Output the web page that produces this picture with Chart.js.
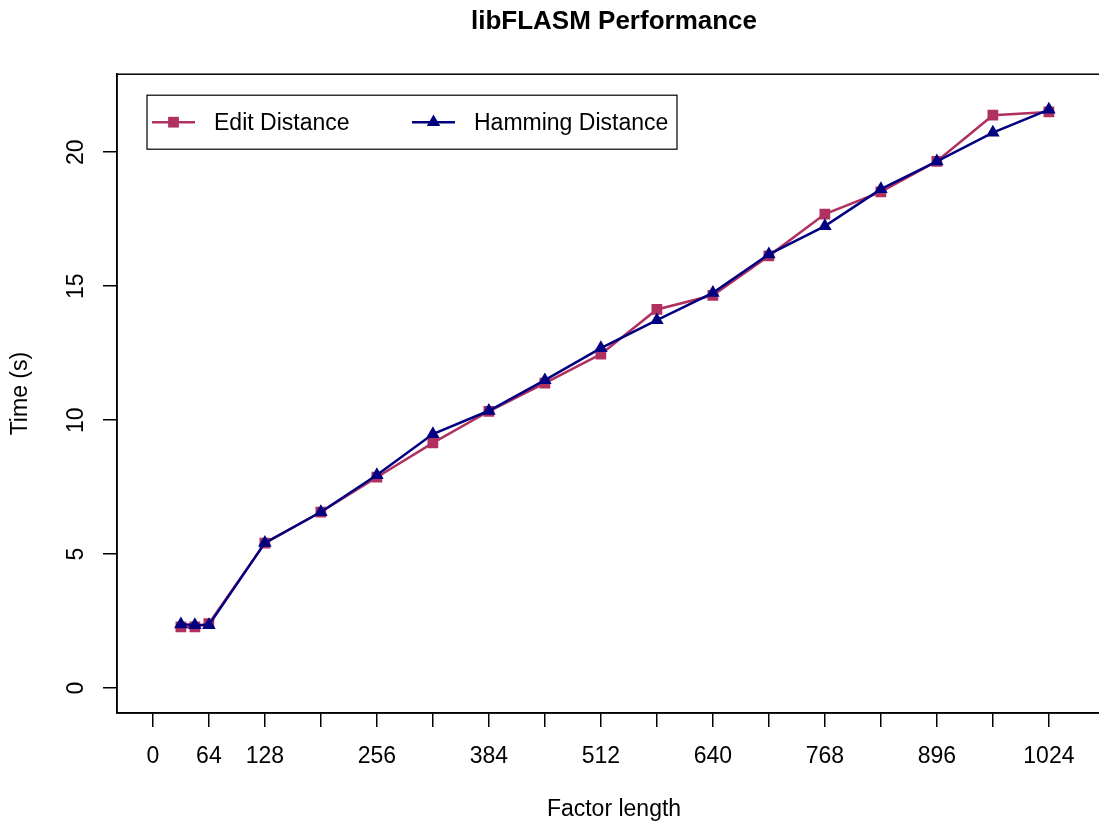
<!DOCTYPE html>
<html>
<head>
<meta charset="utf-8">
<script src="https://cdn.jsdelivr.net/npm/chart.js@4/dist/chart.umd.min.js"></script>
<style>
html,body{margin:0;padding:0;background:#fff;overflow:hidden;width:1099px;height:823px;}
#wrap{width:1099px;height:823px;overflow:hidden;position:relative;}
canvas{display:block;}
</style>
</head>
<body>
<div id="wrap"><canvas id="c" width="1130" height="823"></canvas></div>
<script>
const factorLength = [32, 48, 64, 128, 192, 256, 320, 384, 448, 512, 576, 640, 704, 768, 832, 896, 960, 1024];
const editDistance = [2.28, 2.28, 2.41, 5.41, 6.57, 7.87, 9.15, 10.33, 11.38, 12.46, 14.13, 14.66, 16.13, 17.69, 18.52, 19.66, 21.38, 21.50];
const hammingDistance = [2.38, 2.35, 2.35, 5.42, 6.57, 7.95, 9.48, 10.35, 11.49, 12.69, 13.73, 14.75, 16.19, 17.24, 18.62, 19.66, 20.73, 21.59];
const xTickValues = [0, 64, 128, 192, 256, 320, 384, 448, 512, 576, 640, 704, 768, 832, 896, 960, 1024];
const xTickLabels = ['0', '64', '128', '', '256', '', '384', '', '512', '', '640', '', '768', '', '896', '', '1024'];
const yTickValues = [0, 5, 10, 15, 20];
const yTickLabels = ['0', '5', '10', '15', '20'];
const seriesNames = ['Edit Distance', 'Hamming Distance'];
const titleText = 'libFLASM Performance';
const xTitle = 'Factor length';
const yTitle = 'Time (s)';

const FONT = "'Liberation Sans', Arial, Helvetica, sans-serif";
const MAROON = '#B03060';
const NAVY = '#000080';

const bgPlugin = {
  id: 'bg',
  beforeDraw(chart) {
    const ctx = chart.ctx;
    ctx.save();
    ctx.fillStyle = '#fff';
    ctx.fillRect(0, 0, chart.width, chart.height);
    ctx.restore();
  }
};

const boxPlugin = {
  id: 'rbox',
  afterDraw(chart) {
    const ctx = chart.ctx;
    const a = chart.chartArea;
    ctx.save();
    ctx.strokeStyle = '#000';
    ctx.lineWidth = 1.5;
    ctx.strokeRect(a.left, a.top, a.right - a.left, a.bottom - a.top);
    // y tick labels, rotated like R
    const ys = chart.scales.y;
    ctx.fillStyle = '#000';
    ctx.font = '23px ' + FONT;
    ctx.textAlign = 'center';
    ctx.textBaseline = 'middle';
    yTickValues.forEach((v, i) => {
      const py = ys.getPixelForValue(v);
      ctx.save();
      ctx.translate(77, py);
      ctx.rotate(-Math.PI / 2);
      ctx.fillText(yTickLabels[i], 0, 0);
      ctx.restore();
    });
    // legend
    const lx = a.left + 30, ly = a.top + 21;
    const lw = 530, lh = 54;
    ctx.fillStyle = '#fff';
    ctx.fillRect(lx, ly, lw, lh);
    ctx.strokeStyle = '#000';
    ctx.lineWidth = 1.2;
    ctx.strokeRect(lx, ly, lw, lh);
    const cy = ly + lh / 2;
    const items = [
      {ds: 0, x0: lx + 5, tx: lx + 67},
      {ds: 1, x0: lx + 265, tx: lx + 327}
    ];
    items.forEach(it => {
      const d = chart.data.datasets[it.ds];
      ctx.strokeStyle = d.borderColor;
      ctx.lineWidth = 2.5;
      ctx.beginPath();
      ctx.moveTo(it.x0, cy);
      ctx.lineTo(it.x0 + 43, cy);
      ctx.stroke();
      ctx.fillStyle = d.pointBackgroundColor;
      Chart.helpers.drawPoint(ctx, {
        pointStyle: d.pointStyle, radius: d.pointRadius, rotation: 0, borderWidth: 0
      }, it.x0 + 21.5, cy);
      ctx.fillStyle = '#000';
      ctx.font = '23px ' + FONT;
      ctx.textAlign = 'left';
      ctx.textBaseline = 'middle';
      ctx.fillText(d.label, it.tx, cy + 1);
    });
    ctx.restore();
  }
};

const toPts = (ys) => factorLength.map((x, i) => ({x: x, y: ys[i]}));

new Chart(document.getElementById('c'), {
  type: 'line',
  data: {
    datasets: [
      {
        label: seriesNames[0],
        data: toPts(editDistance),
        borderColor: MAROON,
        backgroundColor: MAROON,
        pointBackgroundColor: MAROON,
        pointBorderWidth: 0,
        pointStyle: 'rect',
        pointRadius: 7.6,
        borderWidth: 2.5,
        tension: 0,
        order: 1
      },
      {
        label: seriesNames[1],
        data: toPts(hammingDistance),
        borderColor: NAVY,
        backgroundColor: NAVY,
        pointBackgroundColor: NAVY,
        pointBorderWidth: 0,
        pointStyle: 'triangle',
        pointRadius: 7.8,
        borderWidth: 2.5,
        tension: 0,
        order: 0
      }
    ]
  },
  options: {
    responsive: false,
    animation: false,
    devicePixelRatio: 1,
    layout: {padding: {left: 0, right: 19, top: 0, bottom: 0}},
    plugins: {
      legend: {display: false},
      tooltip: {enabled: false},
      title: {
        display: true,
        text: titleText,
        fullSize: false,
        color: '#000',
        font: {family: FONT, size: 26, weight: 'bold'},
        padding: {top: 6, bottom: 37}
      }
    },
    scales: {
      x: {
        type: 'linear',
        min: -41,
        max: 1095,
        afterBuildTicks: (s) => { s.ticks = xTickValues.map(v => ({value: v})); },
        afterFit: (s) => { s.height = 110; },
        ticks: {
          autoSkip: false,
          maxRotation: 0,
          minRotation: 0,
          padding: 16,
          color: '#000',
          font: {family: FONT, size: 23},
          callback: (v, i) => xTickLabels[i]
        },
        grid: {drawOnChartArea: false, drawTicks: true, tickLength: 14, color: '#000', lineWidth: 1.5},
        border: {display: true, color: '#000', width: 1.5},
        title: {display: true, text: xTitle, color: '#000', font: {family: FONT, size: 23}, padding: {top: 0, bottom: 0}}
      },
      y: {
        type: 'linear',
        min: -0.93,
        max: 22.91,
        afterBuildTicks: (s) => { s.ticks = yTickValues.map(v => ({value: v})); },
        afterFit: (s) => { s.width = 117; },
        ticks: {display: false},
        grid: {drawOnChartArea: false, drawTicks: true, tickLength: 14, color: '#000', lineWidth: 1.5},
        border: {display: true, color: '#000', width: 1.5},
        title: {display: true, text: yTitle, color: '#000', font: {family: FONT, size: 23}, padding: {top: 7, bottom: 0}}
      }
    }
  },
  plugins: [bgPlugin, boxPlugin]
});
</script>
</body>
</html>
